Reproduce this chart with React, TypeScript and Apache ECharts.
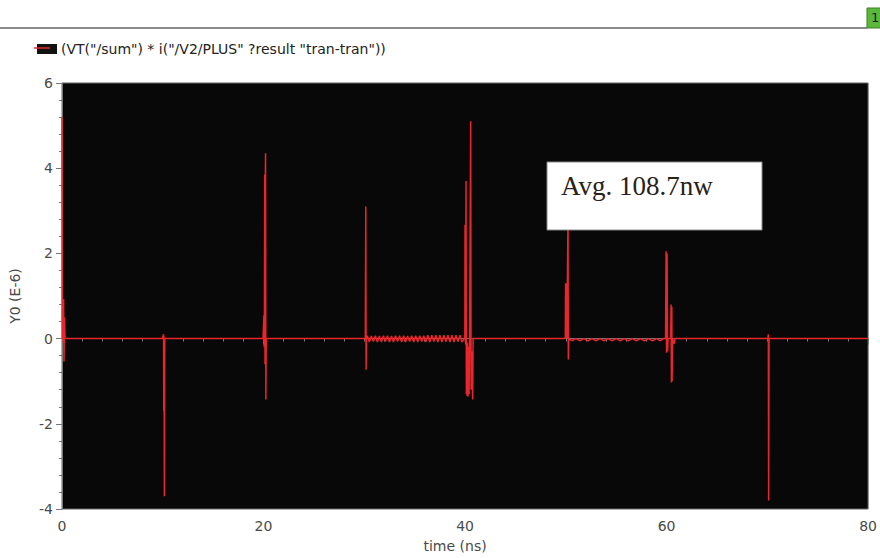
import React, { useEffect, useRef } from "react";
import * as echarts from "echarts";

type Pt = [number, number];

const seriesName = '(VT("/sum") * i("/V2/PLUS" ?result "tran-tran"))';
const xLabels = [0, 20, 40, 60, 80];
const yLabels = [-4, -2, 0, 2, 4, 6];
const annotation = "Avg. 108.7nw";

const burst0: Pt[] = [[0, 5.2], [0.03, 0], [0.1, 0.7], [0.13, -0.1], [0.16, 0.93], [0.2, -0.54], [0.25, 0.5], [0.3, 0]];
const burst10: Pt[] = [[10.0, 0], [10.08, 0.1], [10.1, -1.7], [10.12, 0.05], [10.14, -1.7], [10.16, -3.7], [10.2, 0]];
const burst20: Pt[] = [[20.0, 0], [20.04, 0.55], [20.07, -0.2], [20.09, 0.5], [20.12, 3.85], [20.15, -0.6], [20.18, 3.8], [20.2, 4.35], [20.23, -1.43], [20.27, 0]];
const burst30: Pt[] = [[30.1, 0], [30.15, 3.1], [30.18, -0.73], [30.22, 0.02]];
const ripple30: Pt[] = [
  [30.3, 0.07], [30.5, -0.08], [30.7, 0.06], [30.9, -0.07], [31.1, 0.07], [31.3, -0.08], [31.5, 0.06], [31.7, -0.08],
  [31.9, 0.07], [32.1, -0.07], [32.3, 0.07], [32.5, -0.08], [32.7, 0.06], [32.9, -0.08], [33.1, 0.07], [33.3, -0.07],
  [33.5, 0.07], [33.7, -0.08], [33.9, 0.07], [34.1, -0.08], [34.3, 0.06], [34.5, -0.07], [34.7, 0.07], [34.9, -0.08],
  [35.1, 0.07], [35.3, -0.08], [35.5, 0.07], [35.7, -0.07], [35.9, 0.07], [36.1, -0.08], [36.3, 0.08], [36.5, -0.08],
  [36.7, 0.08], [36.9, -0.07], [37.1, 0.08], [37.3, -0.08], [37.5, 0.08], [37.7, -0.08], [37.9, 0.08], [38.1, -0.07],
  [38.3, 0.08], [38.5, -0.08], [38.7, 0.08], [38.9, -0.08], [39.1, 0.08], [39.3, -0.07], [39.5, 0.08], [39.7, -0.08],
];
const burst40: Pt[] = [
  [39.9, 0], [39.98, 0.05], [40.0, 2.67], [40.03, -0.1], [40.1, 3.7], [40.13, -1.3], [40.17, -0.1], [40.2, -1.35],
  [40.25, -0.1], [40.3, -1.36], [40.35, -0.2], [40.4, -1.3], [40.45, -0.1], [40.56, 5.1], [40.6, -1.2], [40.66, -0.3],
  [40.76, -1.43], [40.8, 0],
];
const burst50: Pt[] = [[49.95, 0], [49.98, 1.3], [50.02, 0.1], [50.05, 1.3], [50.1, 0], [50.22, 2.9], [50.25, -0.49], [50.3, 0]];
const ripple50: Pt[] = [
  [50.6, -0.05], [51.0, 0.0], [51.4, -0.05], [51.8, 0.0], [52.2, -0.05], [52.6, 0.0], [53.0, -0.05], [53.4, 0.0],
  [53.8, -0.05], [54.2, 0.0], [54.6, -0.05], [55.0, 0.0], [55.4, -0.05], [55.8, 0.0], [56.2, -0.05], [56.6, 0.0],
  [57.0, -0.05], [57.4, 0.0], [57.8, -0.05], [58.2, 0.0], [58.6, -0.05], [59.0, 0.0], [59.4, -0.05], [59.7, 0.0],
];
const burst60: Pt[] = [
  [59.9, 0], [59.95, 2.05], [60.0, -0.33], [60.05, 2.0], [60.1, -0.3], [60.15, 0], [60.4, 0], [60.45, 0.8],
  [60.48, -1.03], [60.52, 0.75], [60.55, -1.0], [60.6, 0], [60.75, -0.12], [60.85, 0],
];
const burst70: Pt[] = [[70.05, 0], [70.1, 0.1], [70.13, -3.8], [70.17, 0]];
const tail: Pt[] = [[80, 0]];

const waveform: Pt[] = [
  ...burst0, [9.95, 0], ...burst10, [19.95, 0], ...burst20, ...burst30, ...ripple30, ...burst40,
  ...burst50, ...ripple50, ...burst60, ...burst70, ...tail,
];

export default function App() {
  const ref = useRef<HTMLDivElement>(null);
  useEffect(() => {
    if (!ref.current) return;
    const chart = echarts.init(ref.current, undefined, { renderer: "svg" });
    const axisFont = { color: "#4a4a4a", fontSize: 14, fontFamily: "DejaVu Sans" };
    chart.setOption({
      animation: false,
      backgroundColor: "#ffffff",
      grid: { left: 61, right: 11, top: 83, bottom: 47, show: true, backgroundColor: "#080808", borderColor: "#666", borderWidth: 1 },
      legend: {
        show: true,
        left: 32,
        top: 37,
        icon: "rect",
        itemWidth: 20,
        itemHeight: 10,
        itemGap: 6,
        itemStyle: { color: "#111", borderColor: "#111" },
        textStyle: { color: "#222", fontSize: 14, fontFamily: "DejaVu Sans", padding: [0, 0, 0, -1] },
        data: [seriesName],
      },
      xAxis: {
        type: "value",
        min: xLabels[0],
        max: xLabels[xLabels.length - 1],
        interval: 20,
        name: "time (ns)",
        nameLocation: "middle",
        nameGap: 30,
        nameTextStyle: { ...axisFont, padding: [0, 20, 0, 0] },
        axisLine: { show: true, lineStyle: { color: "#777", width: 1 } },
        axisTick: { show: true, inside: false, length: 6, lineStyle: { color: "#777" } },
        minorTick: { show: true, splitNumber: 10, length: 3, lineStyle: { color: "#777" } },
        splitLine: { show: false },
        axisLabel: { ...axisFont, margin: 10 },
      },
      yAxis: {
        type: "value",
        min: yLabels[0],
        max: yLabels[yLabels.length - 1],
        interval: 2,
        name: "Y0 (E-6)",
        nameLocation: "middle",
        nameGap: 40,
        nameTextStyle: axisFont,
        axisLine: { show: true, lineStyle: { color: "#777", width: 1 } },
        axisTick: { show: true, inside: false, length: 6, lineStyle: { color: "#777" } },
        minorTick: { show: true, splitNumber: 5, length: 3, lineStyle: { color: "#777" } },
        splitLine: { show: false },
        axisLabel: { ...axisFont, margin: 9 },
      },
      series: [
        {
          name: seriesName,
          type: "line",
          data: waveform,
          showSymbol: false,
          symbol: "none",
          lineStyle: { color: "#e8262b", width: 1.5 },
          itemStyle: { color: "#111" },
        },
      ],
      graphic: [
        { type: "line", shape: { x1: 0, y1: 28, x2: 867, y2: 28 }, style: { stroke: "#8a8a8a", lineWidth: 2 } },
        { type: "rect", shape: { x: 867, y: 8, width: 16, height: 20 }, style: { fill: "#5cb83a", stroke: "#3d7f2a", lineWidth: 1 } },
        { type: "text", x: 871, y: 11, style: { text: "1", fill: "#1a1a1a", fontSize: 13, fontFamily: "DejaVu Sans" } },
        { type: "line", shape: { x1: 34, y1: 48, x2: 50, y2: 48 }, style: { stroke: "#e8262b", lineWidth: 1.5 }, z: 200 },
        { type: "rect", shape: { x: 547, y: 162, width: 215, height: 68 }, style: { fill: "#ffffff", stroke: "#888", lineWidth: 1 }, z: 100 },
        {
          type: "text",
          x: 561,
          y: 186,
          z: 101,
          style: { text: annotation, fill: "#2a2118", fontSize: 27, fontFamily: "Liberation Serif", verticalAlign: "middle" },
        },
      ],
    });
    return () => chart.dispose();
  }, []);
  return <div ref={ref} style={{ position: "fixed", left: 0, top: 0, width: 880, height: 558 }} />;
}
